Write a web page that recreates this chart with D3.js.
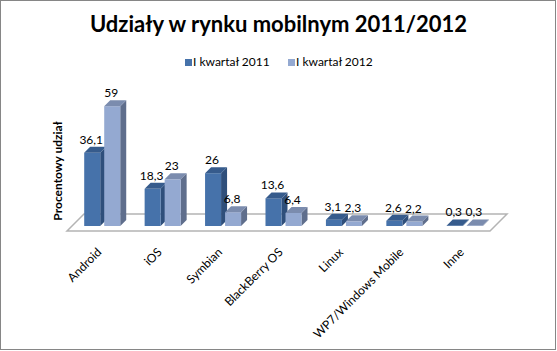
<!DOCTYPE html>
<html><head><meta charset="utf-8">
<script src="https://cdn.jsdelivr.net/npm/d3@7"></script>
<style>body{margin:0;background:#fff}svg{display:block}text{font-family:Lato,"Open Sans",sans-serif}</style>
</head><body>
<script>
const categories = ["Android","iOS","Symbian","BlackBerry OS","Linux","WP7/Windows Mobile","Inne"];
const series = ["I kwartał 2011","I kwartał 2012"];
const values2011 = [36.1,18.3,26,13.6,3.1,2.6,0.3];
const values2012 = [59,23,6.8,6.4,2.3,2.2,0.3];
const valueLabels2011 = ["36,1","18,3","26","13,6","3,1","2,6","0,3"];
const valueLabels2012 = ["59","23","6,8","6,4","2,3","2,2","0,3"];

const W=557,H=351;
const svg=d3.select("body").append("svg").attr("width",W).attr("height",H);
svg.append("rect").attr("x",0.5).attr("y",0.5).attr("width",W-2).attr("height",H-2).attr("fill","#fff").attr("stroke","#868686");

const x=d3.scaleBand().domain(categories).range([72,495]);
const xs=d3.scaleBand().domain(series).range([0,x.bandwidth()]).paddingInner(0.2).paddingOuter(0.61);
const y=d3.scaleLinear().domain([0,60]).range([226,104.2]);
const dX=6,dY=-6;
const cols=[{front:"#4672aa",top:"#365b8c",side:"#2f4f7b"},{front:"#94a9d1",top:"#7b8cae",side:"#5f6e8c"}];

// floor
const y0=y(0), fl=x.range()[0], fr=x.range()[1];
const floor=[[fl-5,y0+5],[fr-5,y0+5],[fr+12,y0-12],[fl+12,y0-12]];
svg.append("polygon").attr("points",floor.map(p=>p.join(",")).join(" ")).attr("fill","#fff").attr("stroke","#b4b4b4").attr("stroke-width",1.5);

const data=[];
categories.forEach((c,i)=>{
  data.push({c,s:series[0],v:values2011[i],lab:valueLabels2011[i],k:0});
  data.push({c,s:series[1],v:values2012[i],lab:valueLabels2012[i],k:1});
});
const g=svg.append("g");
data.forEach(d=>{
  const x0=x(d.c)+xs(d.s), x1=x0+xs.bandwidth(), yt=y(d.v), yb=y(0);
  const col=cols[d.k];
  g.append("polygon").attr("points",[[x1,yt],[x1+dX,yt+dY],[x1+dX,yb+dY],[x1,yb]].map(p=>p.join(",")).join(" ")).attr("fill",col.side);
  g.append("rect").attr("x",x0).attr("y",yt).attr("width",x1-x0).attr("height",yb-yt).attr("fill",col.front);
  g.append("polygon").attr("points",[[x0,yt],[x1,yt],[x1+dX,yt+dY],[x0+dX,yt+dY]].map(p=>p.join(",")).join(" ")).attr("fill",col.top);
});
data.forEach(d=>{
  const xc=x(d.c)+xs(d.s)+xs.bandwidth()/2;
  svg.append("text").attr("x",xc-1).attr("y",y(d.v)+dY-3).attr("text-anchor","middle").attr("font-size",12).attr("fill","#000").text(d.lab);
});

// category labels
categories.forEach(c=>{
  const xc=x(c)+x.bandwidth()/2;
  svg.append("text").attr("transform",`translate(${xc},${253}) rotate(-45)`).attr("text-anchor","end").attr("font-size",12).attr("fill","#000").text(c);
});

// title
svg.append("text").attr("x",W/2).attr("y",32).attr("text-anchor","middle").attr("font-size",22).attr("font-weight","bold").text("Udziały w rynku mobilnym 2011/2012");

// y axis title
svg.append("text").attr("transform","translate(62,171) rotate(-90)").attr("text-anchor","middle").attr("font-size",12).attr("font-weight","bold").text("Procentowy udział");

// legend
const legX=[185,288];
series.forEach((s,i)=>{
  svg.append("rect").attr("x",legX[i]).attr("y",59).attr("width",7).attr("height",7).attr("fill",cols[i].front);
  svg.append("text").attr("x",legX[i]+8).attr("y",66).attr("font-size",12).text(s);
});
</script>
</body></html>
